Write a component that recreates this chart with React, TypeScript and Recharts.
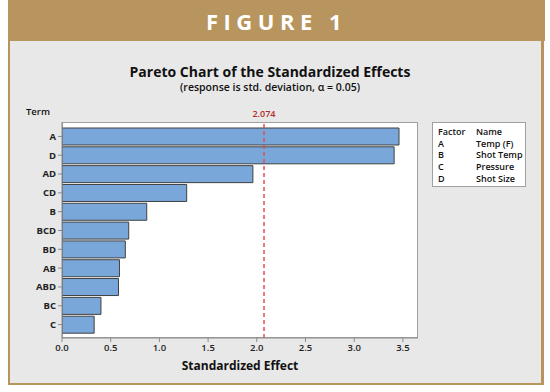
import { BarChart, Bar, XAxis, YAxis, ReferenceLine } from 'recharts';

const terms = ['A', 'D', 'AD', 'CD', 'B', 'BCD', 'BD', 'AB', 'ABD', 'BC', 'C'];
const effects = [3.46, 3.41, 1.96, 1.28, 0.87, 0.685, 0.65, 0.59, 0.58, 0.4, 0.33];
const xTicks = [0, 0.5, 1.0, 1.5, 2.0, 2.5, 3.0, 3.5];
const critical = 2.074;
const factors = ['A', 'B', 'C', 'D'];
const factorNames = ['Temp (F)', 'Shot Temp', 'Pressure', 'Shot Size'];

const data = terms.map((term, i) => ({ term, effect: effects[i] }));

const tan = '#b8955f';
const font = '"Open Sans", "Noto Sans", sans-serif';

export default function App() {
  return (
    <div style={{ position: 'absolute', left: 0, top: 0, width: 550, height: 392, background: '#fff', fontFamily: font, overflow: 'hidden' }}>
      {/* header band */}
      <div style={{ position: 'absolute', left: 8, top: 0, width: 537, height: 41, background: tan, color: '#fff', fontSize: 22, fontWeight: 700, letterSpacing: 5.5, textAlign: 'center', lineHeight: '42px' }}>
        FIGURE 1
      </div>
      {/* grey panel */}
      <div style={{ position: 'absolute', left: 8, top: 41, width: 531, height: 342, background: '#e8e8e8', borderLeft: `2px solid ${tan}`, borderRight: `3px solid ${tan}`, borderBottom: `2px solid ${tan}` }} />
      <div style={{ position: 'absolute', left: 0, width: 540, top: 62, textAlign: 'center', fontSize: 14, fontWeight: 700, color: '#111' }}>
        Pareto Chart of the Standardized Effects
      </div>
      <div style={{ position: 'absolute', left: 0, width: 540, top: 80, textAlign: 'center', fontSize: 10.5, fontWeight: 600, color: '#111' }}>
        (response is std. deviation, α = 0.05)
      </div>
      <div style={{ position: 'absolute', left: 26, top: 105, fontSize: 9.5, fontWeight: 600, color: '#111' }}>Term</div>
      {/* plot frame */}
      <div style={{ position: 'absolute', left: 62, top: 122, width: 356, height: 216, background: '#fff', border: '1px solid #a0a0a0', boxSizing: 'border-box' }} />
      {/* factor table */}
      <div style={{ position: 'absolute', left: 432, top: 122, width: 94, height: 65, background: '#fff', border: '1px solid #a0a0a0', boxSizing: 'border-box', fontSize: 9, fontWeight: 600, color: '#111', padding: '3px 0 0 5px', lineHeight: '11.7px' }}>
        <div style={{ display: 'flex' }}>
          <span style={{ width: 38 }}>Factor</span>
          <span>Name</span>
        </div>
        {factors.map((f, i) => (
          <div key={f} style={{ display: 'flex' }}>
            <span style={{ width: 38 }}>{f}</span>
            <span>{factorNames[i]}</span>
          </div>
        ))}
      </div>
      <div style={{ position: 'absolute', left: 0, top: 0 }}>
        <BarChart
          width={550}
          height={392}
          data={data}
          layout="vertical"
          margin={{ top: 122, right: 132, left: 22, bottom: 24 }}
          barCategoryGap={1}
        >
          <XAxis
            type="number"
            dataKey="effect"
            domain={[0, 3.655]}
            ticks={xTicks}
            tickFormatter={(v: number) => v.toFixed(1)}
            allowDataOverflow
            stroke="#8a8a8a"
            tickSize={4}
            tick={{ fill: '#222', fontSize: 9.5, fontWeight: 600 }}
            height={30}
            label={{ value: 'Standardized Effect', position: 'insideBottom', offset: -2, fill: '#111', fontSize: 12, fontWeight: 700 }}
          />
          <YAxis
            type="category"
            dataKey="term"
            width={40}
            padding={{ top: 5, bottom: 4 }}
            stroke="#8a8a8a"
            tickSize={4}
            tick={{ fill: '#222', fontSize: 9.5, fontWeight: 700 }}
          />
          <ReferenceLine
            x={critical}
            stroke="#e05050"
            strokeWidth={1.5}
            strokeDasharray="4 3"
            label={{ value: '2.074', position: 'top', fill: '#b22a2a', fontSize: 9, fontWeight: 600 }}
          />
          <Bar dataKey="effect" fill="#7aa7da" stroke="#404040" strokeWidth={1} isAnimationActive={false} />
        </BarChart>
      </div>
    </div>
  );
}
